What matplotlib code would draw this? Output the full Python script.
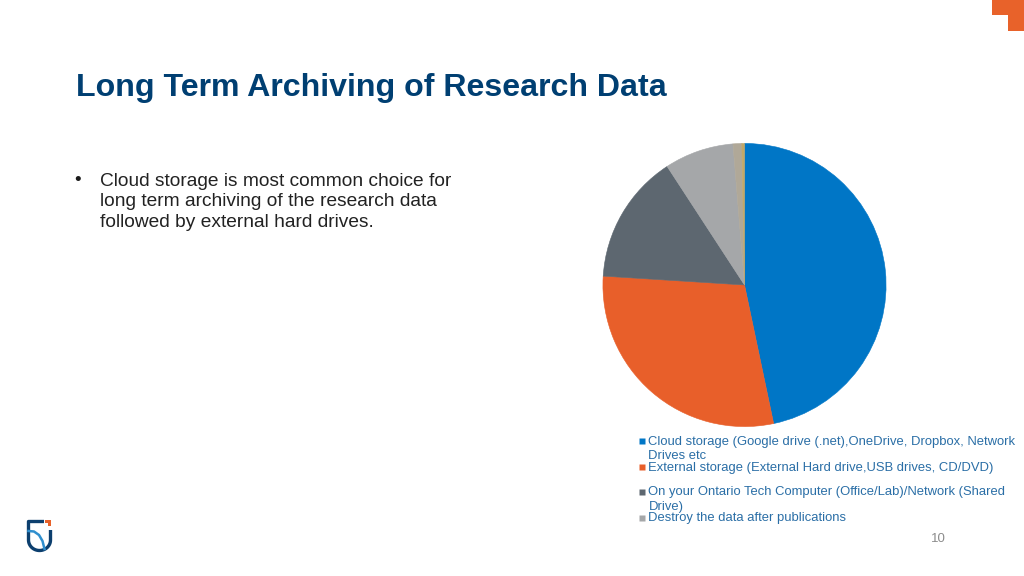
"""
Long term archiving slide: pie chart with bullet text and slide furniture
Run: python plot.py
"""

import matplotlib.pyplot as plt
import numpy as np
from matplotlib.patches import Polygon

plt.rcParams['font.family'] = ['Liberation Sans', 'DejaVu Sans']

# pie shares in percent, clockwise from 12 o'clock
shares = [46.7, 29.3, 14.8, 7.9, 1.0, 0.3]
colors = ['#0076c6', '#e85f2a', '#5d6770', '#a5a7a9', '#b0a898', '#c2a868']

legend_labels = [
    'Cloud storage (Google drive (.net),OneDrive, Dropbox, Network\nDrives etc',
    'External storage (External Hard drive,USB drives, CD/DVD)',
    'On your Ontario Tech Computer (Office/Lab)/Network (Shared\nDrive)',
    'Destroy the data after publications',
]
legend_colors = ['#0076c6', '#e85f2a', '#5d6770', '#a5a7a9']
legend_y = [441, 467, 492, 518]

title = 'Long Term Archiving of Research Data'
bullet_lines = ['Cloud storage is most common choice for',
                'long term archiving of the research data',
                'followed by external hard drives.']
bullet_y = [180, 200.5, 221]

W, H = 1024, 576
fig = plt.figure(figsize=(W / 100, H / 100), dpi=100, facecolor='white')

# page axes in pixel coordinates, y pointing down
page = fig.add_axes([0, 0, 1, 1])
page.set_xlim(0, W)
page.set_ylim(H, 0)
page.axis('off')

# pie axes, centre (744.5, 285) radius 142
cx, cy, r = 744.5, 285, 142
pie_ax = fig.add_axes([(cx - r) / W, 1 - (cy + r) / H, 2 * r / W, 2 * r / H])
wedges, _ = pie_ax.pie(shares, colors=colors, startangle=90, counterclock=False, radius=1)
for w in wedges:
    w.set_edgecolor(w.get_facecolor())
    w.set_linewidth(0.4)
pie_ax.set_xlim(-1.003, 1.003)
pie_ax.set_ylim(-1.003, 1.003)

# title and bullet
page.text(76, 88, title, fontsize=23.1, fontweight='bold', color='#003f72',
          ha='left', va='center')
page.text(74, 180.5, '•', fontsize=13.5, color='#1a1a1a', ha='left', va='center')
for line, y in zip(bullet_lines, bullet_y):
    page.text(99.5, y + 1.5, line, fontsize=13.8, color='#222222', ha='left', va='center')

# legend
for label, col, y in zip(legend_labels, legend_colors, legend_y):
    page.plot([641.5], [y], marker='s', markersize=4.6, color=col, mec='none')
    page.text(648.5, y - 5.5, label, fontsize=9.35, color='#2a6ea6', ha='left', va='top',
              linespacing=1.3)

# slide number
page.text(938.5, 539, '10', fontsize=9.5, color='#8c8c8c', ha='center', va='center')

# corner mark, top right
page.add_patch(Polygon([(992, 0), (1024, 0), (1024, 31), (1008, 31), (1008, 15), (992, 15)],
                       closed=True, fc='#e8622a', ec='none'))

# logo, bottom left
t = np.linspace(np.pi, 0, 40)
shield_x = np.r_[44, 28.5, 39.5 + 11 * np.cos(t), 50.5]
shield_y = np.r_[521.5, 521.5, 540 + 10.5 * np.sin(t), 530]
page.plot(shield_x, shield_y, color='#0c3f6e', lw=2.4, solid_capstyle='butt')
page.plot([28.5, 34, 39, 42.5, 44.5], [531, 531.5, 535, 541, 549],
          color='#2f8fce', lw=1.8)
page.add_patch(Polygon([(45, 520), (51, 520), (51, 526), (48, 526), (48, 523), (45, 523)],
                       closed=True, fc='#e8622a', ec='none'))

plt.savefig('out.png', dpi=100)
plt.close()
